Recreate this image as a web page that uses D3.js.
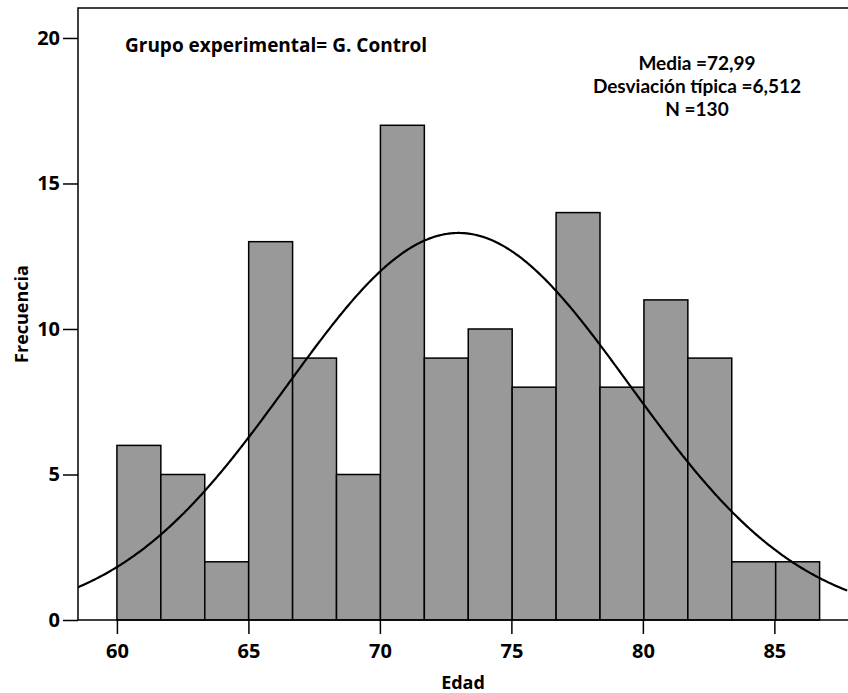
<!DOCTYPE html>
<html>
<head>
<meta charset="utf-8">
<script src="https://cdn.jsdelivr.net/npm/d3@7"></script>
<style>
  body { margin: 0; background: #fff; }
  svg text { font-family: "Open Sans", "Noto Sans", sans-serif; font-weight: bold; fill: #000; }
  svg text.stats { font-family: Lato, "Open Sans", sans-serif; }
</style>
</head>
<body>
<svg id="chart" width="848" height="693"></svg>
<script>
// Histogram of ages (control group) with fitted normal curve
const binStart = 60;
const binWidth = 1.67;
const counts = [6, 5, 2, 13, 9, 5, 17, 9, 10, 8, 14, 8, 11, 9, 2, 2];
const xTicks = [60, 65, 70, 75, 80, 85];
const yTicks = [0, 5, 10, 15, 20];
const mean = 72.99;
const sd = 6.512;
const n = 130;
const groupLabel = "Grupo experimental= G. Control";
const statLines = ["Media =72,99", "Desviación típica =6,512", "N =130"];

const svg = d3.select("#chart");
const mLeft = 78, mRight = 848, mTop = 8, mBottom = 620;

const x = d3.scaleLinear().domain([58.52, 87.8]).range([mLeft, mRight]);
const y = d3.scaleLinear().domain([0, 21.03]).range([mBottom, mTop]);

const bins = counts.map((c, i) => ({ x0: binStart + i * binWidth, x1: binStart + (i + 1) * binWidth, c }));

svg.append("defs").append("clipPath").attr("id", "plotclip")
  .append("rect").attr("x", mLeft).attr("y", mTop).attr("width", mRight - mLeft).attr("height", mBottom - mTop);

// bars
svg.append("g").selectAll("rect").data(bins).join("rect")
  .attr("x", d => x(d.x0))
  .attr("y", d => y(d.c))
  .attr("width", d => x(d.x1) - x(d.x0))
  .attr("height", d => y(0) - y(d.c))
  .attr("fill", "#999999")
  .attr("stroke", "#000")
  .attr("stroke-width", 1.5);

// normal curve scaled to counts
const dens = v => n * binWidth / (sd * Math.sqrt(2 * Math.PI)) * Math.exp(-0.5 * ((v - mean) / sd) ** 2);
const pts = d3.range(58.52, 87.81, 0.05).map(v => [v, dens(v)]);
svg.append("path")
  .attr("clip-path", "url(#plotclip)")
  .attr("d", d3.line().x(d => x(d[0])).y(d => y(d[1])).curve(d3.curveBasis)(pts))
  .attr("fill", "none")
  .attr("stroke", "#000")
  .attr("stroke-width", 2.2);

// frame
svg.append("path")
  .attr("d", `M${mLeft},${mBottom}V${mTop}H${mRight}`)
  .attr("fill", "none").attr("stroke", "#000").attr("stroke-width", 1.5);

// axes
const xAxis = d3.axisBottom(x).tickValues(xTicks).tickSize(14).tickFormat(d3.format("d"));
const gx = svg.append("g").attr("transform", `translate(0,${mBottom})`).call(xAxis);
gx.select(".domain").attr("d", `M${mLeft},0H${mRight}`).attr("stroke-width", 1.5);
gx.selectAll(".tick line").attr("stroke-width", 1.5);
gx.selectAll("text").attr("font-size", 20).attr("font-family", null).attr("y", 37.5).attr("dy", 0);

const yAxis = d3.axisLeft(y).tickValues(yTicks).tickSize(15).tickPadding(3).tickFormat(d3.format("d"));
const gy = svg.append("g").attr("transform", `translate(${mLeft},0)`).call(yAxis);
gy.select(".domain").remove();
gy.selectAll(".tick line").attr("stroke-width", 1.5);
gy.selectAll("text").attr("font-size", 20).attr("font-family", null);

// axis titles
svg.append("text").attr("x", (mLeft + mRight) / 2).attr("y", 689).attr("text-anchor", "middle")
  .attr("font-size", 18).text("Edad");
svg.append("text").attr("transform", `translate(28,${(mTop + mBottom) / 2}) rotate(-90)`).attr("text-anchor", "middle")
  .attr("font-size", 18).text("Frecuencia");

// annotations
svg.append("text").attr("x", 125).attr("y", 52).attr("font-size", 19).text(groupLabel);
// summary statistics, one centred line each
svg.append("g").selectAll("text").data(statLines).join("text")
  .attr("class", "stats")
  .attr("x", 697)
  .attr("y", (d, i) => 70 + i * 23)
  .attr("text-anchor", "middle").attr("font-size", 19)
  .text(d => d);
</script>
</body>
</html>
